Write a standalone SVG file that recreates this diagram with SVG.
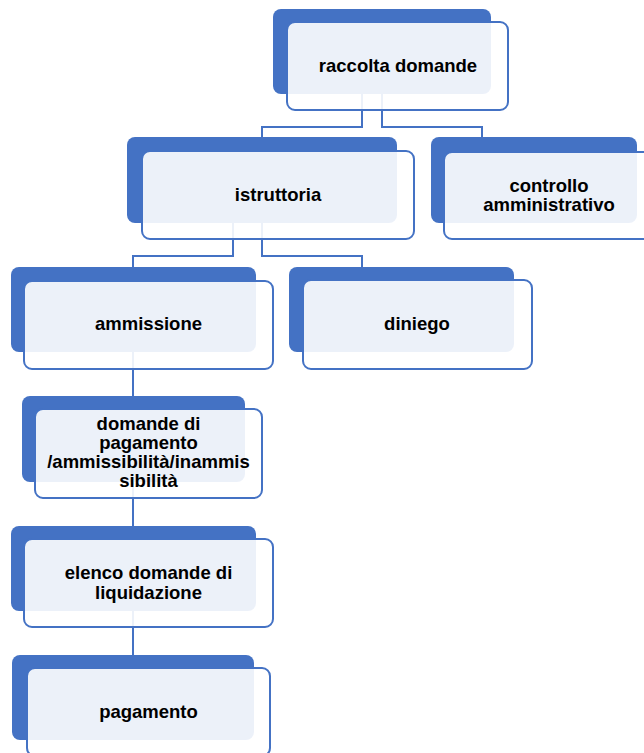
<svg xmlns="http://www.w3.org/2000/svg" width="644" height="753" viewBox="0 0 644 753">
<style>
.back{fill:#4472C4}
.front{fill:#FFFFFF;fill-opacity:0.9;stroke:#4472C4;stroke-width:2}
.conn{fill:none;stroke:#4472C4;stroke-width:2}
text{font-family:"Liberation Sans",Arial,sans-serif;font-weight:bold;font-size:18.5px;fill:#000;text-anchor:middle}
</style>
<rect width="644" height="753" fill="#FFFFFF"/>
<g id="connectors">
<path class="conn" d="M362,60 V127 H262 V140"/>
<path class="conn" d="M382,60 V127 H482 V140"/>
<path class="conn" d="M233,190 V256 H133 V270"/>
<path class="conn" d="M262,190 V256 H362 V270"/>
<path class="conn" d="M133,320 V400"/>
<path class="conn" d="M133,450 V530"/>
<path class="conn" d="M133,580 V660"/>
</g>
<g id="raccolta">
<rect class="back" x="273" y="9" width="218" height="85" rx="8"/>
<rect class="front" x="287" y="22" width="221" height="88" rx="8"/>
<text x="398" y="72">raccolta domande</text>
</g>
<g id="istruttoria">
<rect class="back" x="127" y="137" width="270" height="86" rx="8"/>
<rect class="front" x="142" y="151" width="272" height="88" rx="8"/>
<text x="278" y="201">istruttoria</text>
</g>
<g id="controllo">
<rect class="back" x="431" y="137" width="206" height="86" rx="8"/>
<rect class="front" x="444" y="152" width="209" height="87" rx="8"/>
<text x="549" y="192">controllo</text>
<text x="549" y="211">amministrativo</text>
</g>
<g id="ammissione">
<rect class="back" x="11" y="267" width="245" height="85" rx="8"/>
<rect class="front" x="24" y="281" width="249" height="88" rx="8"/>
<text x="148.5" y="330">ammissione</text>
</g>
<g id="diniego">
<rect class="back" x="289" y="267" width="225" height="85" rx="8"/>
<rect class="front" x="303" y="280" width="229" height="89" rx="8"/>
<text x="417" y="330">diniego</text>
</g>
<g id="domande">
<rect class="back" x="22" y="396" width="223" height="86" rx="8"/>
<rect class="front" x="35" y="409" width="227" height="89" rx="8"/>
<text x="148.5" y="430">domande di</text>
<text x="148.5" y="449">pagamento</text>
<text x="148.5" y="468">/ammissibilità/inammis</text>
<text x="148.5" y="487">sibilità</text>
</g>
<g id="elenco">
<rect class="back" x="11" y="526" width="245" height="85" rx="8"/>
<rect class="front" x="24" y="539" width="249" height="88" rx="8"/>
<text x="148.5" y="579">elenco domande di</text>
<text x="148.5" y="599">liquidazione</text>
</g>
<g id="pagamento">
<rect class="back" x="12" y="655" width="242" height="85" rx="8"/>
<rect class="front" x="27" y="668" width="243" height="88" rx="8"/>
<text x="148.5" y="718">pagamento</text>
</g>
</svg>
